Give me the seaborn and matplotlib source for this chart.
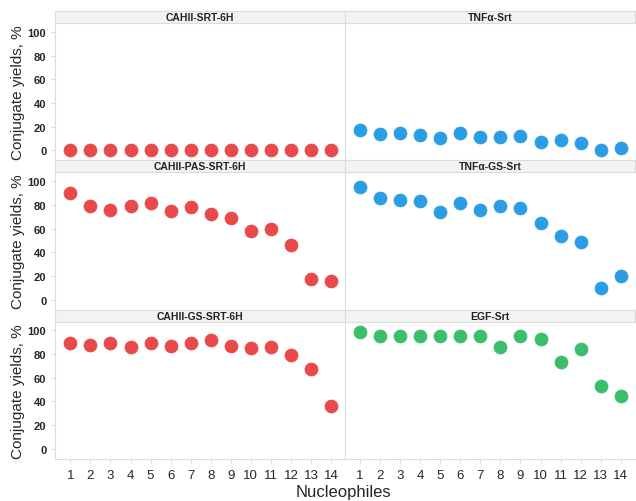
import pandas as pd
import matplotlib.pyplot as plt
import seaborn as sns
from matplotlib.patches import Rectangle

nucleophiles = list(range(1, 14 + 1))
panels = ["CAHII-SRT-6H", "TNFα-Srt",
          "CAHII-PAS-SRT-6H", "TNFα-GS-Srt",
          "CAHII-GS-SRT-6H", "EGF-Srt"]

cahii_srt = [0, 0, 0, 0, 0, 0, 0, 0, 0, 0, 0, 0, 0, 0]
tnfa_srt = [17, 14, 15, 13, 10, 15, 11, 11, 12, 7, 9, 6, 0, 2]
cahii_pas = [90, 79, 76, 79, 82, 75, 78, 72, 69, 58, 60, 46, 17, 16]
tnfa_gs = [95, 86, 84, 83, 74, 82, 76, 79, 77, 65, 54, 49, 10, 20]
cahii_gs = [89, 88, 89, 86, 89, 87, 89, 92, 87, 85, 86, 79, 67, 36]
egf_srt = [99, 95, 95, 95, 95, 95, 95, 86, 95, 93, 73, 84, 53, 45]

series = [cahii_srt, tnfa_srt, cahii_pas, tnfa_gs, cahii_gs, egf_srt]
colors = ["#e84a4c", "#2b9de4", "#e84a4c", "#2b9de4", "#e84a4c", "#3cbf6c"]

rows = []
for name, vals in zip(panels, series):
    for n, v in zip(nucleophiles, vals):
        rows.append({"Panel": name, "Nucleophile": n, "Yield": v})
df = pd.DataFrame(rows)

sns.set_style("white")
plt.rcParams['font.family'] = ['Liberation Sans', 'DejaVu Sans']

g = sns.FacetGrid(df, col="Panel", col_wrap=2, col_order=panels,
                  sharex=True, sharey=True, height=1.5, aspect=1.5)
for ax, name, c in zip(g.axes.flat, panels, colors):
    sub = df[df["Panel"] == name]
    sns.scatterplot(data=sub, x="Nucleophile", y="Yield", ax=ax, color=c,
                    s=88, edgecolor=c, linewidth=0.5, legend=False)

g.figure.set_size_inches(6.36, 5.02)
g.figure.subplots_adjust(left=0.087, right=0.998, top=0.952, bottom=0.084,
                         hspace=0.087, wspace=0.0)

grey = "#dcdcdc"
for i, (ax, name) in enumerate(zip(g.axes.flat, panels)):
    ax.set_xlim(0.25, 14.7)
    ax.set_ylim(-8.5, 107.5)
    ax.set_title("")
    ax.set_xlabel("")
    ax.set_ylabel("")
    for s in ax.spines.values():
        s.set_visible(False)
    ax.spines["left"].set_visible(True)
    ax.spines["left"].set_color(grey)
    ax.spines["left"].set_linewidth(0.8)
    if i >= 4:
        ax.spines["bottom"].set_visible(True)
        ax.spines["bottom"].set_color(grey)
        ax.spines["bottom"].set_linewidth(0.8)
    ax.set_xticks(nucleophiles)
    ax.set_yticks([0, 20, 40, 60, 80, 100])
    ax.tick_params(axis="both", length=3, color=grey, width=0.8)
    ax.tick_params(axis="x", labelsize=9.5, pad=4, bottom=(i >= 4),
                   labelbottom=(i >= 4))
    if i % 2 == 0:
        ax.tick_params(axis="y", labelsize=8, left=True, labelleft=True)
        for t in ax.get_yticklabels():
            t.set_fontweight("bold")
        ax.set_ylabel("Conjugate yields, %", fontsize=11, labelpad=2)
    else:
        ax.tick_params(axis="y", left=False, labelleft=False)
    strip = Rectangle((0, 1.0), 1, 0.087, transform=ax.transAxes,
                      facecolor="#f3f3f3", edgecolor=grey, linewidth=0.8,
                      clip_on=False)
    ax.add_patch(strip)
    ax.text(0.5, 1.0435, name, transform=ax.transAxes, ha="center",
            va="center", fontsize=7.5, fontweight="bold", color="#222222")

g.figure.text(0.54, 0.018, "Nucleophiles", ha="center", va="center",
              fontsize=12)

plt.savefig("out.png", dpi=100)
